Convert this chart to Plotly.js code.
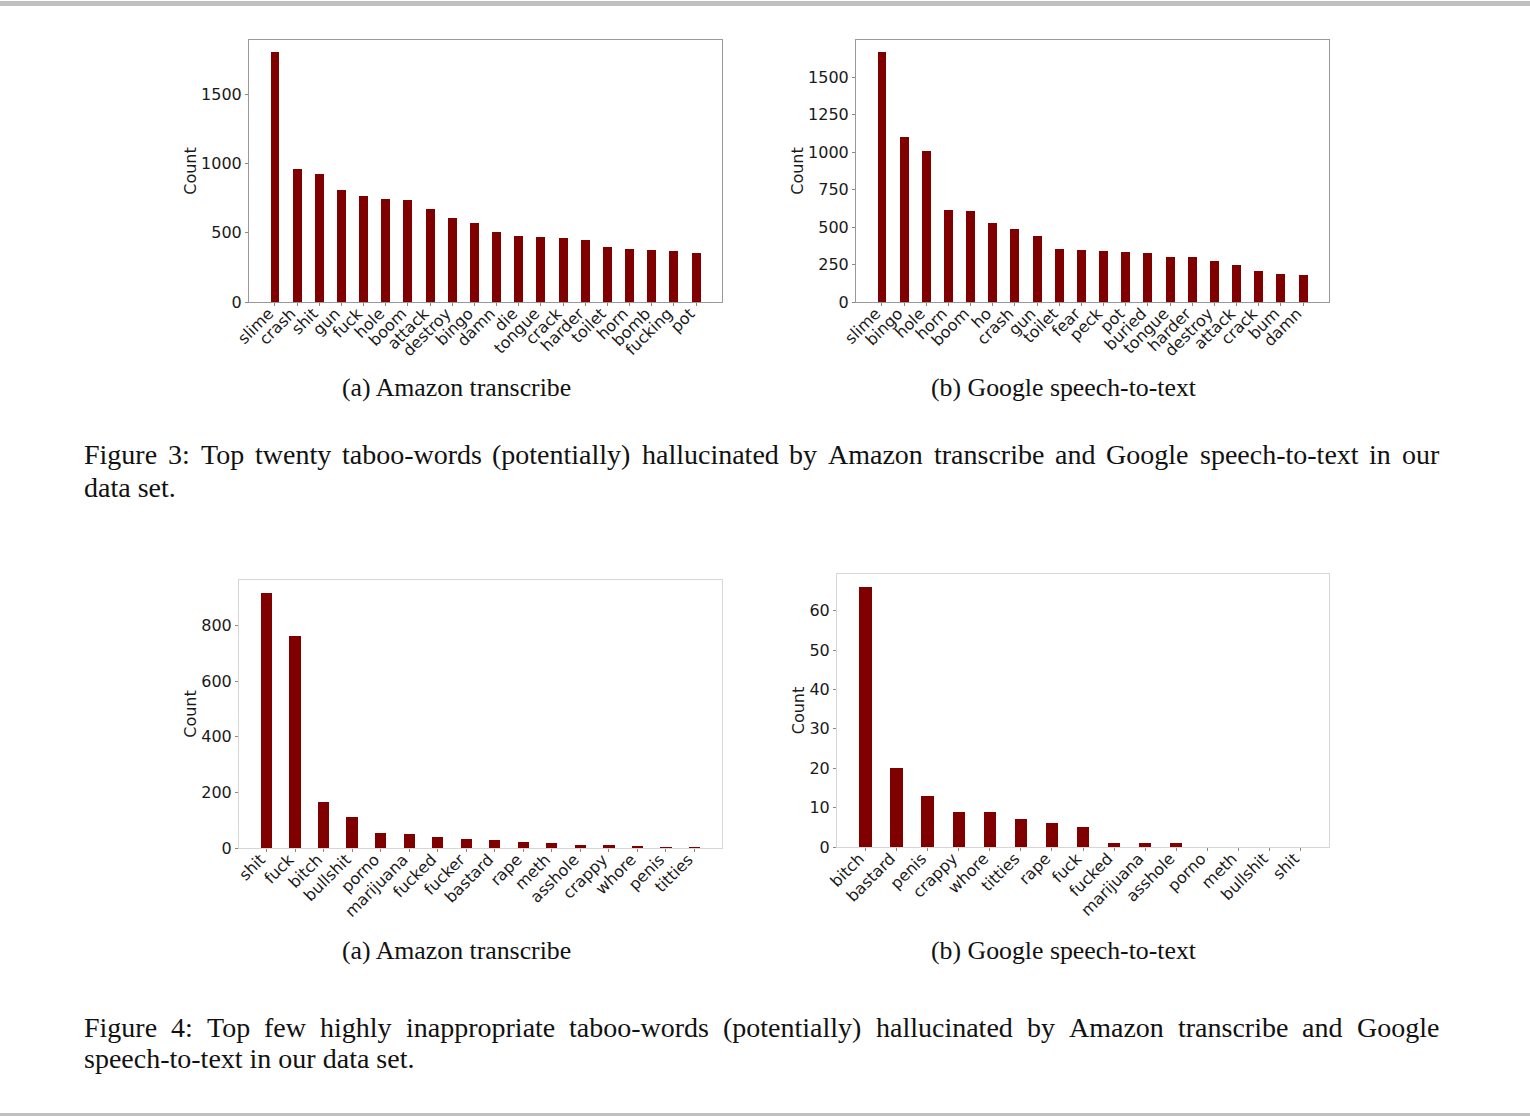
<!DOCTYPE html>
<html>
<head>
<meta charset="utf-8">
<script src="https://cdn.plot.ly/plotly-3.0.1.min.js"></script>
<style>
html,body{margin:0;padding:0;background:#fff;}
#chart{width:1530px;height:1116px;}
</style>
</head>
<body>
<div id="chart"></div>
<script>
// ---------- data ----------
const amazonTopWords = ["slime","crash","shit","gun","fuck","hole","boom","attack","destroy","bingo","damn","die","tongue","crack","harder","toilet","horn","bomb","fucking","pot"];
const amazonTopCounts = [1800,956,920,807,763,742,734,674,604,573,508,474,467,462,448,397,380,373,366,352];
const amazonTopTicks = [0,500,1000,1500];

const googleTopWords = ["slime","bingo","hole","horn","boom","ho","crash","gun","toilet","fear","peck","pot","buried","tongue","harder","destroy","attack","crack","bum","damn"];
const googleTopCounts = [1667,1100,1009,618,607,525,491,440,357,350,344,333,328,301,299,277,250,205,185,179];
const googleTopTicks = [0,250,500,750,1000,1250,1500];

const amazonBadWords = ["shit","fuck","bitch","bullshit","porno","marijuana","fucked","fucker","bastard","rape","meth","asshole","crappy","whore","penis","titties"];
const amazonBadCounts = [918,762,165,112,55,52,41,32,29,23,17,11,11,8,5,4];
const amazonBadTicks = [0,200,400,600,800];

const googleBadWords = ["bitch","bastard","penis","crappy","whore","titties","rape","fuck","fucked","marijuana","asshole","porno","meth","bullshit","shit"];
const googleBadCounts = [66,20,13,9,9,7,6,5,1,1,1,0,0,0,0];
const googleBadTicks = [0,10,20,30,40,50,60];

const subCaptionA = "(a) Amazon transcribe";
const subCaptionB = "(b) Google speech-to-text";
const fig3Line1 = "Figure 3: Top twenty taboo-words (potentially) hallucinated by Amazon transcribe and Google speech-to-text in our";
const fig3Line2 = "data set.";
const fig4Line1 = "Figure 4: Top few highly inappropriate taboo-words (potentially) hallucinated by Amazon transcribe and Google";
const fig4Line2 = "speech-to-text in our data set.";

// ---------- helpers ----------
const W = 1530, H = 1116;
const fx = p => p / W;
const fy = p => 1 - p / H;
const BAR = '#800000';
const TXT = '#1a1a1a';
const serif = "'Liberation Serif', 'Times New Roman', serif";
const sans = "'DejaVu Sans', sans-serif";
const SUB_SIZE = 25.8;
const CAP_SIZE = 28;

function barTrace(words, counts, n) {
  return {
    type: 'bar', x: words, y: counts, width: 0.4,
    xaxis: 'x' + (n === 1 ? '' : n), yaxis: 'y' + (n === 1 ? '' : n),
    marker: {color: BAR, line: {width: 0}},
    hoverinfo: 'none', showlegend: false
  };
}
function xAxis(x0, x1, nCats, lc, anchor) {
  const pad = 0.05 * (nCats - 1 + 0.4);
  return {
    domain: [fx(x0), fx(x1)], anchor: anchor, type: 'category',
    range: [-0.2 - pad, nCats - 1 + 0.2 + pad],
    showline: true, mirror: true, linecolor: lc, linewidth: 1,
    ticks: 'outside', ticklen: 3, tickcolor: '#888', tickwidth: 1,
    tickangle: -45, ticklabelstandoff: -8, ticklabelshift: -6,
    tickfont: {family: sans, size: 16, color: TXT},
    showgrid: false, zeroline: false, fixedrange: true
  };
}
function yAxis(y0, y1, maxVal, ticks, lc, anchor) {
  return {
    domain: [fy(y1), fy(y0)], anchor: anchor,
    range: [0, maxVal * 1.05], tickmode: 'array', tickvals: ticks,
    showline: true, mirror: true, linecolor: lc, linewidth: 1,
    ticks: 'outside', ticklen: 3, tickcolor: '#888', tickwidth: 1,
    tickfont: {family: sans, size: 16, color: TXT},
    title: {text: 'Count', font: {family: sans, size: 16, color: TXT}, standoff: 0},
    showgrid: false, zeroline: false, fixedrange: true
  };
}

// measure words with a temporary SVG text (same rendering path as Plotly)
const svgNS = 'http://www.w3.org/2000/svg';
const msvg = document.createElementNS(svgNS, 'svg');
msvg.setAttribute('width', '10'); msvg.setAttribute('height', '10');
msvg.style.position = 'absolute'; msvg.style.left = '-9999px'; msvg.style.top = '-9999px';
document.body.appendChild(msvg);
const mtext = document.createElementNS(svgNS, 'text');
mtext.setAttribute('style', "font-family:" + serif + ";font-size:" + CAP_SIZE + "px");
msvg.appendChild(mtext);
function measure(s) { mtext.textContent = s; return mtext.getComputedTextLength(); }

function textAnn(text, xPx, yPx, anchor, size) {
  return {text: text, xref: 'paper', yref: 'paper', x: fx(xPx), y: fy(yPx),
          xanchor: anchor, yanchor: 'middle', showarrow: false, borderpad: 0, borderwidth: 0,
          font: {family: serif, size: size, color: '#111'}};
}
function justified(text, x0, x1, yPx) {
  const words = text.split(' ');
  const widths = words.map(measure);
  const total = widths.reduce((a, b) => a + b, 0);
  const gap = (x1 - x0 - total) / (words.length - 1);
  const out = [];
  let x = x0;
  words.forEach((w, i) => { out.push(textAnn(w, x, yPx, 'left', CAP_SIZE)); x += widths[i] + gap; });
  return out;
}

const data = [
  barTrace(amazonTopWords, amazonTopCounts, 1),
  barTrace(googleTopWords, googleTopCounts, 2),
  barTrace(amazonBadWords, amazonBadCounts, 3),
  barTrace(googleBadWords, googleBadCounts, 4)
];

const annotations = [
  textAnn(subCaptionA, 456, 387, 'center', SUB_SIZE),
  textAnn(subCaptionB, 1064, 387, 'center', SUB_SIZE),
  textAnn(subCaptionA, 456, 950, 'center', SUB_SIZE),
  textAnn(subCaptionB, 1064, 950, 'center', SUB_SIZE),
  ...justified(fig3Line1, 84, 1439, 455),
  textAnn(fig3Line2, 84, 487, 'left', CAP_SIZE),
  ...justified(fig4Line1, 84, 1439, 1027),
  textAnn(fig4Line2, 84, 1058, 'left', CAP_SIZE)
];
document.body.removeChild(msvg);

const layout = {
  width: W, height: H,
  margin: {l: 0, r: 0, t: 0, b: 0},
  paper_bgcolor: '#fff', plot_bgcolor: '#fff',
  showlegend: false, hovermode: false, bargap: 0,
  xaxis:  xAxis(249, 722, amazonTopWords.length, '#999', 'y'),
  yaxis:  yAxis(40, 302, Math.max(...amazonTopCounts), amazonTopTicks, '#999', 'x'),
  xaxis2: xAxis(856, 1329, googleTopWords.length, '#999', 'y2'),
  yaxis2: yAxis(40, 302, Math.max(...googleTopCounts), googleTopTicks, '#999', 'x2'),
  xaxis3: xAxis(239, 722, amazonBadWords.length, '#d6d6d6', 'y3'),
  yaxis3: yAxis(580, 848, Math.max(...amazonBadCounts), amazonBadTicks, '#d6d6d6', 'x3'),
  xaxis4: xAxis(837, 1329, googleBadWords.length, '#d6d6d6', 'y4'),
  yaxis4: yAxis(574, 847, Math.max(...googleBadCounts), googleBadTicks, '#d6d6d6', 'x4'),
  annotations: annotations,
  shapes: [
    {type: 'rect', xref: 'paper', yref: 'paper', x0: 0, x1: 1, y0: fy(6), y1: fy(1), fillcolor: '#c0c0c0', line: {width: 0}, layer: 'below'},
    {type: 'rect', xref: 'paper', yref: 'paper', x0: 0, x1: 1, y0: fy(1116), y1: fy(1113), fillcolor: '#c0c0c0', line: {width: 0}, layer: 'below'}
  ]
};

Plotly.newPlot('chart', data, layout, {displayModeBar: false, staticPlot: true});
</script>
</body>
</html>
